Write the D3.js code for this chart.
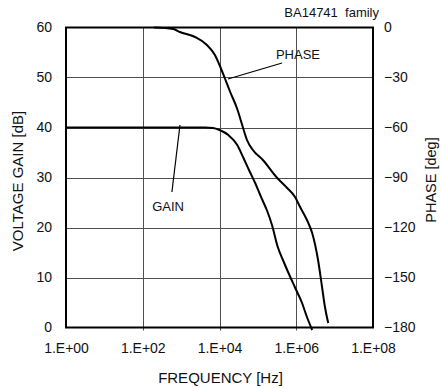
<!DOCTYPE html>
<html><head><meta charset="utf-8">
<script src="https://cdn.jsdelivr.net/npm/d3@7"></script>
<style>
html,body{margin:0;padding:0;background:#fff;}
svg{display:block;font-family:"Liberation Sans",Arial,sans-serif;}
</style></head>
<body><svg id="c" width="441" height="388"></svg>
<script>
const xTickValues = [1, 1e2, 1e4, 1e6, 1e8];
const xTickLabels = ["1.E+00", "1.E+02", "1.E+04", "1.E+06", "1.E+08"];
const gainTicks = [0, 10, 20, 30, 40, 50, 60];
const phaseTicks = [-180, -150, -120, -90, -60, -30, 0];

const gainFreq = [1, 4.2e3, 6.8e3, 1.0e4, 1.7e4, 2.9e4, 4.1e4, 6.2e4, 8.5e4, 1.15e5, 1.35e5, 1.75e5, 2.35e5, 3.3e5, 4.5e5, 5.8e5, 9.3e5, 1.4e6, 1.9e6, 2.6e6];
const gainDb   = [40, 40, 39.9, 39.5, 38.5, 36.5, 34.1, 31.1, 28.9, 26.5, 25.3, 23.3, 20.4, 16.1, 13.5, 11.5, 8.0, 5.0, 2.1, -0.5];

const phaseFreq = [195, 620, 930, 2.3e3, 4.7e3, 7.6e3, 1.0e4, 1.4e4, 1.9e4, 2.9e4, 3.9e4, 5.2e4, 7.4e4, 1.35e5, 3.2e5, 5.8e5, 9.3e5, 1.26e6, 1.9e6, 2.6e6, 3.7e6, 4.7e6, 5.6e6, 6.8e6];
const phaseDeg  = [0, -0.9, -2.7, -5.7, -10.5, -16.5, -22.5, -30.9, -38.7, -48.9, -58.5, -67.5, -73.5, -79.5, -90.3, -96.3, -101.7, -107.7, -115.5, -123.3, -139.5, -155.7, -167.7, -177.3];

const svg = d3.select("#c");
const L = 66, R = 373, T = 27.5, B = 327.5;
const x = d3.scaleLog().domain([1, 1e8]).range([L, R]);
const yG = d3.scaleLinear().domain([0, 60]).range([B, T]);
const yP = d3.scaleLinear().domain([-180, 0]).range([B, T]);

// grid
const grid = svg.append("g").attr("stroke", "#505050").attr("stroke-width", 1);
grid.selectAll("line.v").data(xTickValues.slice(1, -1)).join("line")
  .attr("x1", d => Math.round(x(d)) + 0.5).attr("x2", d => Math.round(x(d)) + 0.5)
  .attr("y1", T).attr("y2", B + 3);
grid.selectAll("line.h").data(gainTicks.slice(1, -1)).join("line")
  .attr("y1", d => Math.round(yG(d)) + 0.5).attr("y2", d => Math.round(yG(d)) + 0.5)
  .attr("x1", L).attr("x2", R);

// axes
const fs = "14px";
const ax = svg.append("g").attr("transform", `translate(0,${B})`)
  .call(d3.axisBottom(x).tickValues(xTickValues).tickFormat((d, i) => xTickLabels[i]).tickSize(0).tickPadding(16));
const al = svg.append("g").attr("transform", `translate(${L},0)`)
  .call(d3.axisLeft(yG).tickValues(gainTicks).tickSize(0).tickPadding(14));
const ar = svg.append("g").attr("transform", `translate(${R},0)`)
  .call(d3.axisRight(yP).tickValues(phaseTicks).tickSize(0).tickPadding(11));
[ax, al, ar].forEach(g => {
  g.select(".domain").remove();
  g.selectAll("text").attr("font-size", fs).attr("fill", "#111")
    .attr("font-family", "'Liberation Sans',Arial,sans-serif");
});

// frame
svg.append("rect").attr("x", L).attr("y", T).attr("width", R - L).attr("height", B - T)
  .attr("fill", "none").attr("stroke", "#000").attr("stroke-width", 2);

// curves
const gainData = gainFreq.map((f, i) => [f, gainDb[i]]);
const phaseData = phaseFreq.map((f, i) => [f, phaseDeg[i]]);
svg.append("path").datum(gainData)
  .attr("d", d3.line().curve(d3.curveMonotoneX).x(d => x(d[0])).y(d => yG(d[1])))
  .attr("fill", "none").attr("stroke", "#000").attr("stroke-width", 2);
svg.append("path").datum(phaseData)
  .attr("d", d3.line().curve(d3.curveMonotoneX).x(d => x(d[0])).y(d => yP(d[1])))
  .attr("fill", "none").attr("stroke", "#000").attr("stroke-width", 2);

// annotations
const ann = svg.append("g").attr("stroke", "#000").attr("stroke-width", 1.2);
ann.append("line").attr("x1", x(10 ** 5.63)).attr("y1", yG(52.9)).attr("x2", x(10 ** 4.22)).attr("y2", yG(49.7));
ann.append("line").attr("x1", x(10 ** 2.97)).attr("y1", yG(40.5)).attr("x2", x(10 ** 2.76)).attr("y2", yG(27.1));
svg.append("text").attr("x", x(10 ** 5.47)).attr("y", yG(53.7)).attr("font-size", "13px").attr("fill", "#111").text("PHASE");
svg.append("text").attr("x", x(10 ** 2.66)).attr("y", yG(23.3)).attr("text-anchor", "middle").attr("font-size", "13px").attr("fill", "#111").text("GAIN");

// titles
svg.append("text").attr("x", 379).attr("y", 17).attr("text-anchor", "end").attr("font-size", "13px").attr("fill", "#111")
  .attr("xml:space", "preserve").style("white-space", "pre").text("BA14741  family");
svg.append("text").attr("x", (L + R) / 2 + 1).attr("y", 383).attr("text-anchor", "middle").attr("font-size", "15px").attr("fill", "#111").text("FREQUENCY [Hz]");
svg.append("text").attr("transform", `translate(23,181) rotate(-90)`).attr("text-anchor", "middle").attr("font-size", "15px").attr("fill", "#111").text("VOLTAGE GAIN [dB]");
svg.append("text").attr("transform", `translate(436,180) rotate(-90)`).attr("text-anchor", "middle").attr("font-size", "14.5px").attr("fill", "#111").text("PHASE [deg]");
</script></body></html>
